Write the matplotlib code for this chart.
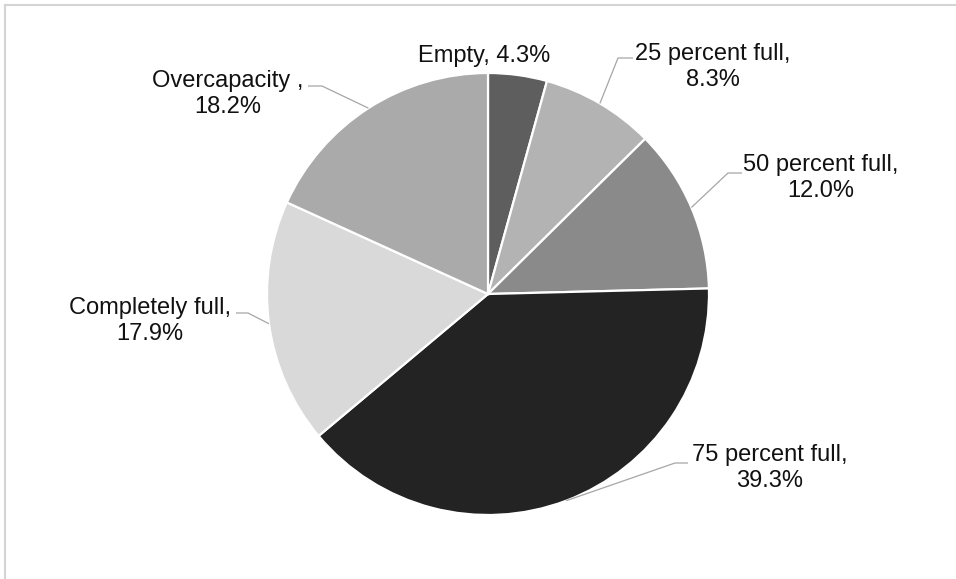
import matplotlib
matplotlib.use('Agg')
import matplotlib.pyplot as plt
from matplotlib.lines import Line2D
import numpy as np

# bin fill levels and their shares (%)
categories = ['Empty', '25 percent full', '50 percent full', '75 percent full',
              'Completely full', 'Overcapacity ']
shares = [4.3, 8.3, 12.0, 39.3, 17.9, 18.2]
colors = ['#5e5e5e', '#b3b3b3', '#8a8a8a', '#232323', '#d9d9d9', '#aaaaaa']

W, H = 956, 579
plt.rcParams['font.family'] = ['Liberation Sans', 'DejaVu Sans']

fig = plt.figure(figsize=(W / 100, H / 100), dpi=100)
ax = fig.add_axes([0, 0, 1, 1])

def px(x, y):
    # pixel position measured from top-left -> data coords
    return x, H - y

cx, cy = px(488, 294)
r = 221
wedges, _ = ax.pie(shares, colors=colors, startangle=90, counterclock=False,
                   center=(cx, cy), radius=r, frame=True,
                   wedgeprops=dict(edgecolor='white', linewidth=1.6))
ax.set_xlim(0, W)
ax.set_ylim(0, H)
ax.set_aspect('equal')
ax.axis('off')

# label block centres and leader elbows (pixels from top-left)
label_pos = [(484, 56), (713, 67), (821, 178), (770, 468), (150, 321), (228, 94)]
elbows = [None, ((618, 58), (633, 58)), ((728, 173), (742, 173)),
          ((675, 463), (688, 463)), ((248, 313), (236, 313)), ((322, 86), (308, 86))]

for w, cat, val, pos, elb in zip(wedges, categories, shares, label_pos, elbows):
    if cat == 'Empty':
        txt = '%s, %.1f%%' % (cat, val)
    else:
        txt = '%s,\n%.1f%%' % (cat, val)
    ax.text(*px(*pos), txt, ha='center', va='center', fontsize=17,
            color='#111111', linespacing=1.22)
    if elb is None:
        continue
    mid = np.deg2rad((w.theta1 + w.theta2) / 2)
    ex, ey = cx + r * np.cos(mid), cy + r * np.sin(mid)
    (bx, by), (tx, ty) = px(*elb[0]), px(*elb[1])
    ax.plot([ex, bx, tx], [ey, by, ty], color='#a6a6a6', lw=0.9,
            solid_capstyle='butt')

# outer chart frame (only top and left edges fall inside the image)
fig.add_artist(Line2D([4.5 / W, 4.5 / W], [0, 1 - 4.5 / H],
                      transform=fig.transFigure, color='#d4d4d4', lw=1.5))
fig.add_artist(Line2D([4.5 / W, 1], [1 - 4.5 / H, 1 - 4.5 / H],
                      transform=fig.transFigure, color='#d4d4d4', lw=1.5))

fig.savefig('out.png', dpi=100)
